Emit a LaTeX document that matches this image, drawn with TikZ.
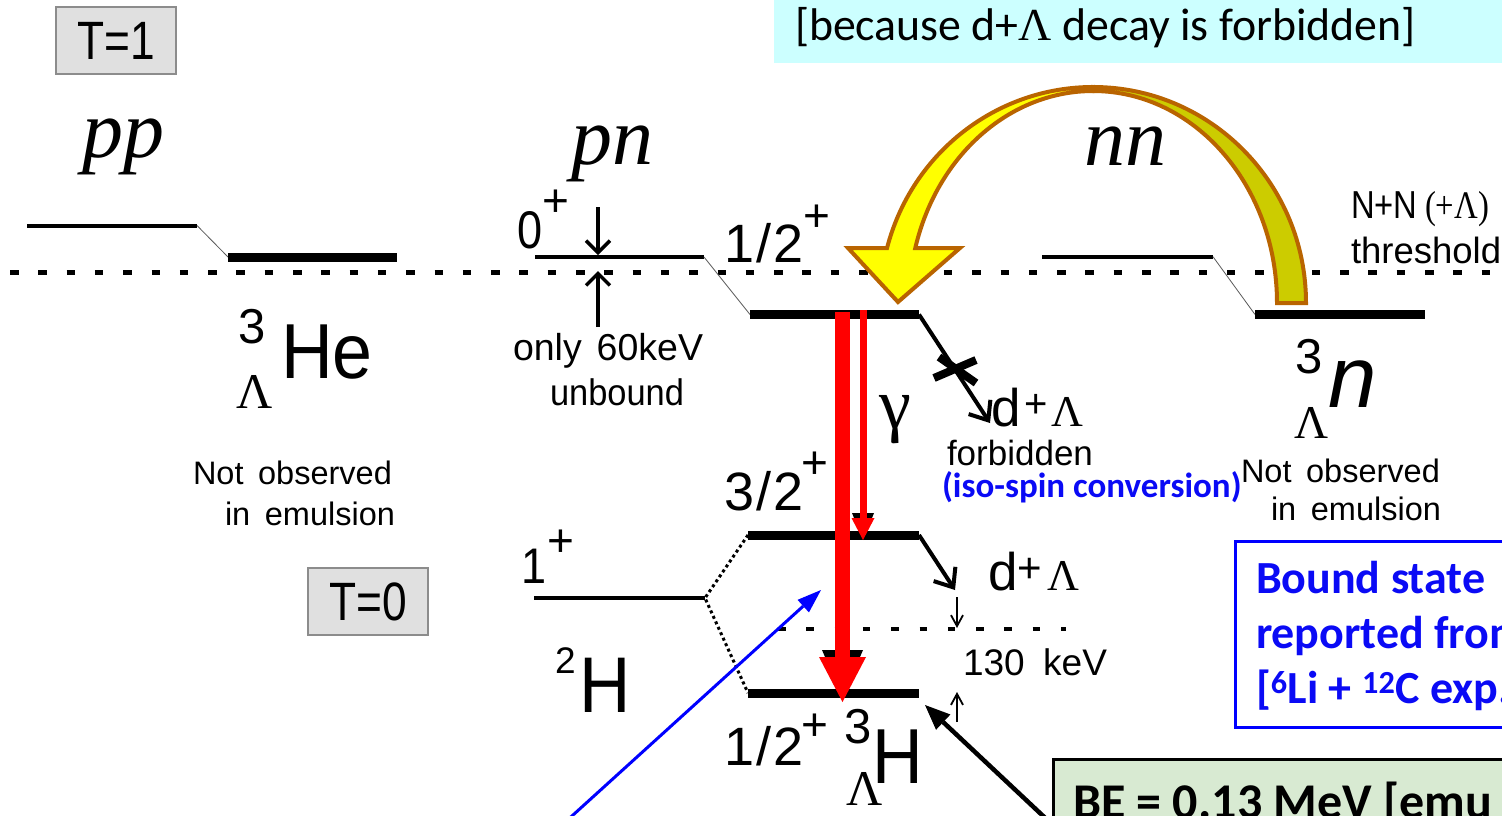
\documentclass[tikz,border=0pt]{standalone}
\usepackage{fontspec}
\setmainfont{Liberation Sans}
\newfontfamily\timfont{Liberation Serif}
\newfontfamily\calfont{Carlito}
\usetikzlibrary{arrows.meta}
\definecolor{bannercol}{RGB}{204,255,255}
\definecolor{boxgray}{RGB}{224,224,224}
\definecolor{yelbright}{RGB}{255,255,0}
\definecolor{yeldark}{RGB}{204,204,0}
\definecolor{brownline}{RGB}{185,100,0}
\definecolor{bluetxt}{RGB}{10,10,245}
\definecolor{greenbox}{RGB}{216,234,210}
\newcommand{\fs}[1]{\fontsize{#1}{#1}\selectfont}
\newcommand{\nar}[2]{\scalebox{#1}[1]{#2}}
\begin{document}
\begin{tikzpicture}[x=1pt,y=1pt,
  lbl/.style={inner sep=0pt, outer sep=0pt, anchor=base west},
  supl/.style={inner sep=0pt, outer sep=0pt, anchor=center},
  tbox/.style={draw=black!45, fill=boxgray, line width=1.2pt, inner sep=0pt, minimum width=120, minimum height=67},
  thinlevel/.style={line width=4pt},
  thicklevel/.style={line width=9pt},
  linkline/.style={line width=0.8pt, black!65},
  dashline/.style={line width=5pt, dash pattern=on 8.5pt off 19.8pt},
  kevline/.style={line width=4pt, dash pattern=on 7.5pt off 20.8pt},
  dotline/.style={line width=3pt, dash pattern=on 3pt off 3pt},
  barb/.style={line width=3.5pt, -{Straight Barb[length=12pt,width=24pt]}},
  smallbarb/.style={line width=1.8pt, -{Straight Barb[length=11pt,width=12pt]}},
  decay/.style={line width=4pt, -{Straight Barb[length=16pt,width=26pt]}},
  crossline/.style={line width=8pt},
  redbig/.style={red, line width=15pt, -{Triangle[length=45pt,width=47pt,line width=0pt]}},
  redsmall/.style={red, line width=7pt, -{Triangle[length=22pt,width=23pt,line width=0pt]}},
  yel/.style={draw=brownline, line width=4pt, line join=miter},
  bluebox/.style={draw=blue, line width=3pt},
  greenboxst/.style={draw=black, fill=greenbox, line width=3pt}
]
\useasboundingbox (0,0) rectangle (1502,-815);
\clip (0,0) rectangle (1502,-815);

% banner
\fill[bannercol] (774,0) rectangle (1510,-63);
\node[lbl] (banner) at (795,-40) {\calfont\fs{45.8}[because d+{\timfont Λ} decay is forbidden]};

% isospin boxes
\node[tbox] (T1) at (116,-40.5) {\fs{54}\nar{0.82}{T=1}};
\node[tbox] (T0) at (368,-601.5) {\fs{54}\nar{0.82}{T=0}};

% thresholds
\coordinate (th0) at (10,-272);
\coordinate (th1) at (1510,-272);
\draw[dashline] (th0) -- (th1);
\coordinate (k0) at (778,-629);
\coordinate (k1) at (1066,-629);
\draw[kevline] (k0) -- (k1);

% pp levels
\coordinate (pp1a) at (27,-225.5); \coordinate (pp1b) at (197,-225.5);
\coordinate (pp2a) at (228,-257); \coordinate (pp2b) at (397,-257);
\draw[thinlevel] (pp1a) -- (pp1b);
\draw[linkline] (pp1b) -- (pp2a);
\draw[thicklevel] (pp2a) -- (pp2b);
% pn levels
\coordinate (pn1a) at (535,-257); \coordinate (pn1b) at (704,-257);
\coordinate (pn2a) at (750,-314.5); \coordinate (pn2b) at (919,-314.5);
\draw[thinlevel] (pn1a) -- (pn1b);
\draw[linkline] (pn1b) -- (pn2a);
\draw[thicklevel] (pn2a) -- (pn2b);
% nn levels
\coordinate (nn1a) at (1042,-256.7); \coordinate (nn1b) at (1213,-256.7);
\coordinate (nn2a) at (1255,-314.5); \coordinate (nn2b) at (1425,-314.5);
\draw[thinlevel] (nn1a) -- (nn1b);
\draw[linkline] (nn1b) -- (nn2a);
\draw[thicklevel] (nn2a) -- (nn2b);
% T=0 levels
\coordinate (l32a) at (748,-535); \coordinate (l32b) at (919,-535);
\coordinate (l1a) at (534,-598); \coordinate (l1b) at (705,-598);
\coordinate (l12a) at (748,-693); \coordinate (l12b) at (919,-693);
\draw[thicklevel] (l32a) -- (l32b);
\draw[thinlevel] (l1a) -- (l1b);
\draw[thicklevel] (l12a) -- (l12b);
\draw[dotline] (l32a) -- (l1b) -- (l12a);

% 60 keV arrows
\coordinate (a60t) at (598,-207); \coordinate (a60m) at (598,-255);
\coordinate (a60b) at (598,-327); \coordinate (a60u) at (598,-271);
\draw[barb] (a60t) -- (a60m);
\draw[barb] (a60b) -- (a60u);
% 130 keV arrows
\coordinate (s1a) at (957,-597); \coordinate (s1b) at (957,-628);
\coordinate (s2a) at (957,-722); \coordinate (s2b) at (957,-692);
\draw[smallbarb] (s1a) -- (s1b);
\draw[smallbarb] (s2a) -- (s2b);

% decays
\coordinate (dec1) at (990,-423);
\draw[decay] (pn2b) -- (dec1);
\coordinate (xa1) at (934,-378); \coordinate (xa2) at (976,-360);
\coordinate (xb1) at (939,-357); \coordinate (xb2) at (976,-383);
\draw[crossline] (xa1) -- (xa2);
\draw[crossline] (xb1) -- (xb2);
\coordinate (dec2) at (955,-590);
\draw[decay] (l32b) -- (dec2);

% gamma transitions
\fill[black] (822,-650) -- (863,-650) -- (860,-657) -- (825,-657) -- cycle;
\fill[black] (852,-513) -- (874,-513) -- (872,-518) -- (854,-518) -- cycle;
\coordinate (g1a) at (842.5,-312); \coordinate (g1b) at (842.5,-702);
\draw[redbig] (g1a) -- (g1b);
\coordinate (g2a) at (863,-310); \coordinate (g2b) at (863,-540);
\draw[redsmall] (g2a) -- (g2b);

% yellow curved arrow
\filldraw[yel, fill=yeldark] (1306,-303) arc[start angle=0, end angle=90, x radius=213, y radius=216]
   -- (1093,-91) arc[start angle=90, end angle=0, x radius=184, y radius=212] -- cycle;
\filldraw[yel, fill=yelbright] (1093,-87) arc[start angle=90, end angle=165.25, x radius=213, y radius=216]
   -- (848,-248) -- (898,-302) -- (960,-248) -- (915.3,-248)
   arc[start angle=164.96, end angle=90, x radius=184, y radius=212] -- cycle;

% pointer arrows
\coordinate (bl0) at (556.5,-830); \coordinate (bl1) at (821,-590);
\draw[blue, line width=3pt, -{Triangle[length=24pt,width=17pt,line width=0pt]}] (bl0) -- (bl1);
\coordinate (bk0) at (1058,-830); \coordinate (bk1) at (925,-705);
\draw[black, line width=4.5pt, -{Triangle[length=25pt,width=21pt,line width=0pt]}] (bk0) -- (bk1);

% column labels
\node[lbl, anchor=base] (pp) at (123,-157) {\timfont\itshape\fs{82}pp};
\node[lbl, anchor=base] (pn) at (612,-164) {\timfont\itshape\fs{82}pn};
\node[lbl, anchor=base] (nn) at (1125,-165) {\timfont\itshape\fs{82}nn};

% spin labels
\node[lbl] (zero) at (517,-248) {\fs{53}\nar{0.85}{0}};
\node[supl] (zeroplus) at (556,-203) {\fs{46}+};
\node[lbl] (halfA) at (724,-262) {\fs{54}1\hspace{2pt}/\hspace{2pt}2};
\node[supl] (halfAplus) at (817,-218) {\fs{46}+};
\node[lbl] (threehalf) at (724,-510) {\fs{54}3\hspace{2pt}/\hspace{2pt}2};
\node[supl] (threehalfplus) at (815,-465) {\fs{46}+};
\node[lbl] (halfB) at (724,-765) {\fs{54}1\hspace{2pt}/\hspace{2pt}2};
\node[supl] (halfBplus) at (815,-727) {\fs{46}+};
\node[lbl] (one) at (521,-583) {\fs{50}\nar{0.9}{1}};
\node[supl] (oneplus) at (561,-543) {\fs{46}+};

% nuclei
\node[lbl] (heA) at (238,-343) {\fs{49}3};
\node[lbl] (heB) at (281,-378) {\fs{78}\nar{0.92}{He}};
\node[lbl] (heC) at (236,-408) {\timfont\fs{50}Λ};
\node[lbl] (dA) at (555,-673) {\fs{37}2};
\node[lbl] (dB) at (579,-712) {\fs{79}\nar{0.9}{H}};
\node[lbl] (nA) at (1295,-373) {\fs{49}3};
\node[lbl] (nB) at (1328,-407) {\itshape\fs{87}n};
\node[lbl] (nC) at (1294,-438) {\timfont\fs{47}Λ};
\node[lbl] (hA) at (844,-743) {\fs{49}3};
\node[lbl] (hB) at (872,-783) {\fs{78}\nar{0.9}{H}};
\node[lbl] (hC) at (846,-805) {\timfont\fs{50}Λ};

% annotations
\node[lbl] (only) at (513,-360) {\fs{37.5}only\hspace{0.4em}60keV};
\node[lbl] (unbound) at (550,-405) {\fs{37}\nar{0.93}{unbound}};
\node[lbl] (noA) at (193,-484) {\fs{32.5}Not\hspace{0.45em}observed};
\node[lbl] (noB) at (225,-525) {\fs{32.5}in\hspace{0.45em}emulsion};
\node[lbl] (noC) at (1241,-482) {\fs{32.5}Not\hspace{0.45em}observed};
\node[lbl] (noD) at (1271,-520) {\fs{32.5}in\hspace{0.45em}emulsion};
\node[lbl] (nnth) at (1351,-218) {\fs{39}\nar{0.84}{N+N}};
\node[lbl] (nnthL) at (1425,-218) {\timfont\fs{39}\nar{0.84}{(+Λ)}};
\node[lbl] (thresh) at (1351,-263) {\fs{36.5}threshold};
\node[supl] (gamma) at (895,-420) {\timfont\fs{72}γ};
\node[lbl] (dlA) at (991,-426) {\fs{53}d};
\node[supl] (dlAp) at (1036,-406) {\fs{40}+};
\node[lbl] (dlAL) at (1051,-426) {\timfont\fs{44}Λ};
\node[lbl] (forb) at (947,-465) {\fs{35}forbidden};
\node[lbl] (iso) at (942,-497) {\calfont\bfseries\fs{35}\color{bluetxt}(iso-spin conversion)};
\node[lbl] (dlB) at (988,-590) {\fs{53}d};
\node[supl] (dlBp) at (1030,-570) {\fs{42}+};
\node[lbl] (dlBL) at (1047,-590) {\timfont\fs{44}Λ};
\node[lbl] (kev) at (963,-675) {\fs{37}130\hspace{0.5em}keV};

% boxes
\draw[bluebox] (1235,-541) rectangle (1512,-727);
\node[lbl] (bsA) at (1256,-593) {\calfont\bfseries\fs{46}\color{bluetxt}Bound state};
\node[lbl] (bsB) at (1256,-648) {\calfont\bfseries\fs{46}\color{bluetxt}reported from};
\node[lbl] (bsC) at (1256,-703) {\calfont\bfseries\fs{46}\color{bluetxt}[\textsuperscript{6}Li + \textsuperscript{12}C exp.};
\draw[greenboxst] (1053,-759) rectangle (1515,-835);
\node[lbl] (be) at (1073,-818) {\calfont\bfseries\fs{50}BE = 0.13 MeV [emu};
\end{tikzpicture}
\end{document}
